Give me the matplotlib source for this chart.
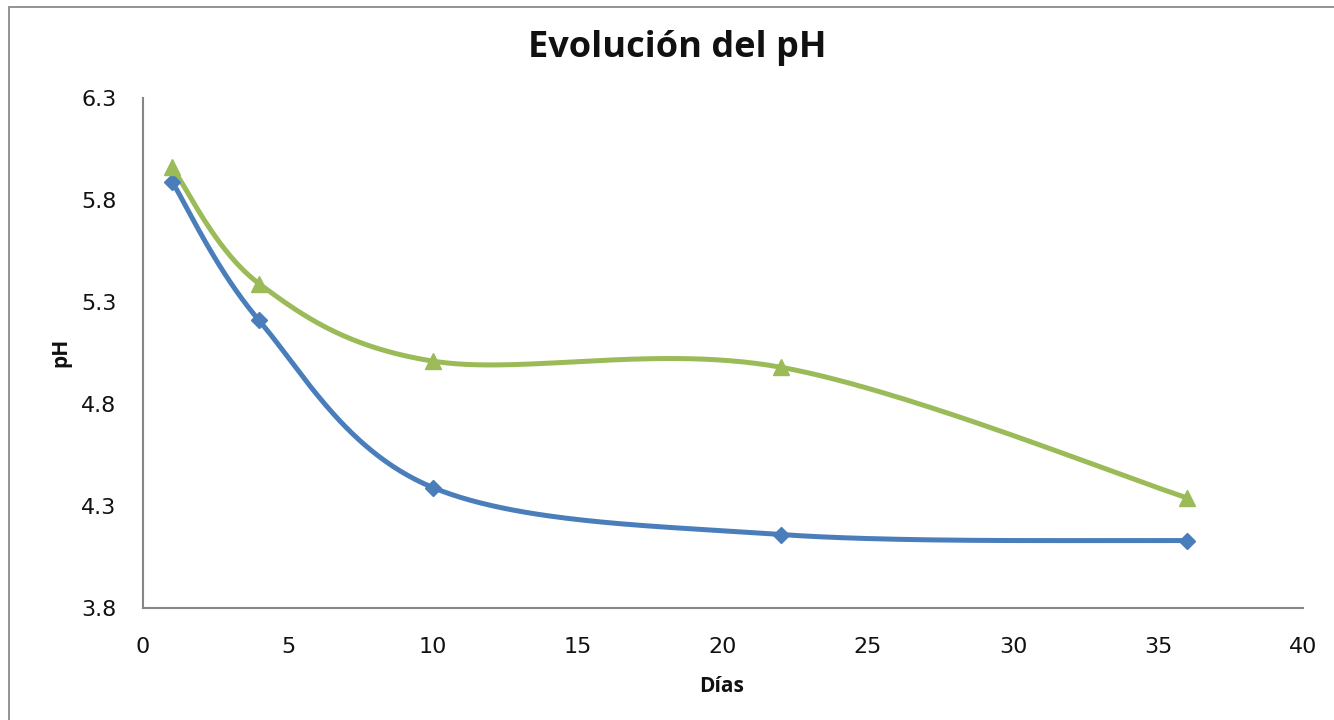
import numpy as np
import matplotlib
matplotlib.use("Agg")
import matplotlib.pyplot as plt
from matplotlib.patches import Rectangle

plt.rcParams['font.family'] = ['Open Sans', 'DejaVu Sans']

# Sampling days and pH readings for the two batches
dias = [1, 4, 10, 22, 36]
ph_serie_a = [5.89, 5.21, 4.39, 4.16, 4.13]
ph_serie_b = [5.96, 5.39, 5.01, 4.98, 4.34]

x_ticks = [0, 5, 10, 15, 20, 25, 30, 35, 40]
y_ticks = [3.8, 4.3, 4.8, 5.3, 5.8, 6.3]

COLOR_A = '#4A7EBB'
COLOR_B = '#9BBB59'


def smooth_curve(xs, ys, n=60):
    """Cubic Bezier spline through the points (Catmull-Rom tangents)."""
    p = np.column_stack([xs, ys]).astype(float)
    ext = np.vstack([p[0], p, p[-1]])
    out = []
    t = np.linspace(0, 1, n)[:, None]
    for i in range(len(p) - 1):
        p0, p3 = p[i], p[i + 1]
        c1 = p0 + (ext[i + 2] - ext[i]) / 6.0
        c2 = p3 - (ext[i + 3] - ext[i + 1]) / 6.0
        seg = ((1 - t) ** 3) * p0 + 3 * ((1 - t) ** 2) * t * c1 \
            + 3 * (1 - t) * t ** 2 * c2 + t ** 3 * p3
        out.append(seg if i == 0 else seg[1:])
    seg = np.vstack(out)
    return seg[:, 0], seg[:, 1]


fig = plt.figure(figsize=(13.34, 7.2), dpi=100)
ax = fig.add_axes([0.1072, 0.1556, 0.8696, 0.7083])

# Outer chart frame
fig.patches.append(Rectangle((9 / 1334, -0.05), 1.1, 0.9903 + 0.05,
                             transform=fig.transFigure, fill=False,
                             edgecolor='#8a8a8a', linewidth=1.3))

for ys, color, marker, ms in [(ph_serie_a, COLOR_A, 'D', 8),
                              (ph_serie_b, COLOR_B, '^', 11)]:
    sx, sy = smooth_curve(dias, ys)
    ax.plot(sx, sy, color=color, linewidth=3.6, solid_capstyle='round', zorder=2)
    ax.plot(dias, ys, linestyle='none', marker=marker, markersize=ms,
            color=color, markeredgecolor=color, zorder=3)

ax.set_xlim(0, 40)
ax.set_ylim(3.8, 6.3)
ax.set_xticks(x_ticks)
ax.set_yticks(y_ticks)
ax.set_xticklabels([str(v) for v in x_ticks], family='DejaVu Sans')
ax.set_yticklabels([f'{v:.1f}' for v in y_ticks], family='DejaVu Sans')
ax.tick_params(axis='both', length=0, labelsize=16, colors='#111111')
ax.tick_params(axis='x', pad=21)
ax.tick_params(axis='y', pad=19)

for side in ['top', 'right']:
    ax.spines[side].set_visible(False)
for side in ['left', 'bottom']:
    ax.spines[side].set_color('#868686')
    ax.spines[side].set_linewidth(1.5)

fig.text(0.508, 0.933, 'Evolución del pH', ha='center', va='center',
         fontsize=26, fontweight='bold', color='#111111')
fig.text(0.541, 0.047, 'Días', ha='center', va='center',
         fontsize=15, fontweight='bold', color='#111111')
fig.text(0.046, 0.511, 'pH', ha='center', va='center', rotation=90,
         fontsize=15, fontweight='bold', color='#111111')

fig.savefig('out.png', dpi=100, facecolor='white')
